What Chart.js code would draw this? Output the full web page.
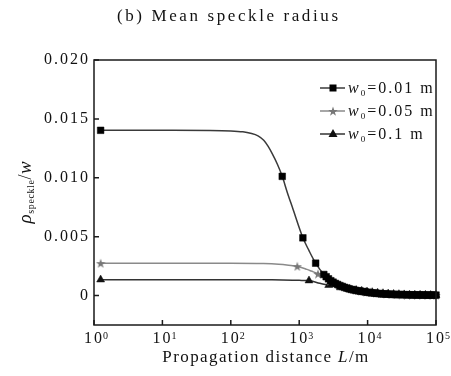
<!DOCTYPE html>
<html>
<head>
<meta charset="utf-8">
<script src="https://cdn.jsdelivr.net/npm/chart.js@4"></script>
<style>
  body { margin: 0; background: #fff; }
  canvas { display: block; }
</style>
</head>
<body>
<canvas id="speckleChart" width="451" height="376"></canvas>
<script>
// axis ticks (x labels are 10 raised to the exponent)
const xTickValues = [1, 10, 100, 1000, 10000, 100000];
const xTickBase = '10';
const xTickExps = ['0', '1', '2', '3', '4', '5'];
const yTickValues = [0, 0.005, 0.010, 0.015, 0.020];
const yTickLabels = ['0', '0.005', '0.010', '0.015', '0.020'];

const seriesLabels = ['=0.01 m', '=0.05 m', '=0.1 m'];

// w0 = 0.01 m  (line-only points, then marker points)
const w001LineL = [10, 50, 100, 150, 194, 250, 303, 350, 403, 480, 668, 793, 1387];
const w001LineV = [0.01403, 0.01402, 0.01398, 0.01390, 0.01378, 0.01356, 0.01318, 0.01268, 0.01205, 0.01115, 0.00878, 0.00751, 0.00383];
const w001MarkL = [1.25, 565, 1132, 1740,
    2290, 2480, 2680, 2900, 3130, 3380, 3650, 3940, 4260, 4600,
    4970, 5370, 5800, 6260, 6760, 7300, 7890, 8520, 9200, 9940,
    10700, 11600, 12500, 13500, 14600, 15800, 17000, 18400, 19900, 21500,
    23200, 25000, 27000, 29200, 31500, 34000, 36800, 39700, 42900, 46300,
    50000, 54000, 58300, 63000, 68000, 73500, 79300, 85700, 92500, 100000];
const w001MarkV = [0.01403, 0.01012, 0.0049, 0.00275,
    0.00179, 0.0016, 0.00142, 0.00126, 0.00114, 0.00103, 0.00094, 0.00085, 0.00077, 0.0007,
    0.00063, 0.00057, 0.00052, 0.00048, 0.00044, 0.0004, 0.00037, 0.00034, 0.00031, 0.00028,
    0.00025, 0.00023, 0.00021, 0.00019, 0.00017, 0.00015, 0.00014, 0.00013, 0.00012, 0.00011,
    0.0001, 0.00009, 0.00009, 0.00008, 0.00008, 0.00007, 0.00007, 0.00006, 0.00006, 0.00006,
    0.00005, 0.00005, 0.00005, 0.00005, 0.00004, 0.00004, 0.00004, 0.00004, 0.00004, 0.00004];

// w0 = 0.05 m
const w005LineL = [10, 100, 300, 500, 700, 1300, 1500, 2300];
const w005LineV = [0.00275, 0.00275, 0.00272, 0.00266, 0.00258, 0.00222, 0.00208, 0.00152];
const w005MarkL = [1.25, 937, 1880, 2800, 3700, 4600, 5600, 6700, 8000, 9500, 11200, 13300, 15800, 18800, 22400, 26600, 31600, 37600, 44700, 53000, 63000, 75000, 89000, 100000];
const w005MarkV = [0.00275, 0.00249, 0.00185, 0.00125, 0.00094, 0.00075, 0.00061, 0.0005, 0.00041, 0.00034, 0.00028, 0.00023, 0.00018, 0.00015, 0.00012, 0.0001, 0.00008, 0.00007, 0.00006, 0.00005, 0.00005, 0.00004, 0.00004, 0.00004];

// w0 = 0.1 m
const w01LineL = [10, 100, 400, 800, 1000, 2000];
const w01LineV = [0.00135, 0.00135, 0.00134, 0.00131, 0.00129, 0.00104];
const w01MarkL = [1.25, 1390, 2700, 4000, 5400, 6800, 8200, 9800, 11700, 14000, 16800, 20000, 24000, 28700, 34300, 41000, 49000, 58500, 70000, 83500, 100000];
const w01MarkV = [0.00135, 0.00127, 0.00088, 0.00068, 0.00055, 0.00046, 0.00039, 0.00033, 0.00028, 0.00023, 0.00019, 0.00016, 0.00013, 0.00011, 0.00009, 0.00007, 0.00006, 0.00005, 0.00005, 0.00004, 0.00004];

const SERIF = "'Liberation Serif', 'Times New Roman', serif";

function buildPoints(lineL, lineV, markL, markV) {
    const pts = [];
    lineL.forEach((L, i) => pts.push({ x: L, y: lineV[i], mark: false }));
    markL.forEach((L, i) => pts.push({ x: L, y: markV[i], mark: true }));
    return pts.sort((a, b) => a.x - b.x);
}

// small filled five-point star used as point image
function makeStar(size, color) {
    const c = document.createElement('canvas');
    c.width = size;
    c.height = size;
    const g = c.getContext('2d');
    g.fillStyle = color;
    g.beginPath();
    for (let i = 0; i < 10; i++) {
        const r = i % 2 ? size * 0.2 : size * 0.5;
        const a = -Math.PI / 2 + i * Math.PI / 5;
        g.lineTo(size / 2 + r * Math.cos(a), size / 2 + 0.6 + r * Math.sin(a));
    }
    g.closePath();
    g.fill();
    return c;
}
const starImg = makeStar(10, '#777');

const markRadius = (r) => (ctx) => (ctx.raw && ctx.raw.mark ? r : 0);

// draw a run of text pieces, returns total width
function drawPieces(ctx, pieces, x, y, spacing, measureOnly) {
    let cx = x;
    pieces.forEach(p => {
        ctx.font = p.font;
        ctx.letterSpacing = spacing;
        if (!measureOnly) ctx.fillText(p.text, cx, y + (p.dy || 0));
        cx += ctx.measureText(p.text).width;
    });
    return cx - x;
}

const framePlugin = {
    id: 'frame',
    beforeDraw(chart) {
        chart.ctx.letterSpacing = '2px';
    },
    afterDraw(chart) {
        const { ctx, chartArea: a, scales: { x, y } } = chart;
        ctx.save();
        ctx.letterSpacing = '0px';

        // box + inward ticks
        ctx.strokeStyle = '#1a1a1a';
        ctx.lineWidth = 1.5;
        ctx.strokeRect(a.left, a.top, a.right - a.left, a.bottom - a.top);
        ctx.beginPath();
        x.ticks.forEach(t => {
            const px = x.getPixelForValue(t.value);
            ctx.moveTo(px, a.bottom);
            ctx.lineTo(px, a.bottom - 5);
        });
        y.ticks.forEach(t => {
            const py = y.getPixelForValue(t.value);
            ctx.moveTo(a.left, py);
            ctx.lineTo(a.left + 5, py);
        });
        ctx.stroke();

        ctx.fillStyle = '#111';
        ctx.textAlign = 'left';
        ctx.textBaseline = 'alphabetic';

        // exponents of the x tick labels
        ctx.font = '16px ' + SERIF;
        ctx.letterSpacing = '2px';
        const baseW = ctx.measureText(xTickBase).width;
        ctx.font = '10px ' + SERIF;
        ctx.letterSpacing = '0px';
        x.ticks.forEach((t, i) => {
            const px = x.getPixelForValue(t.value);
            ctx.fillText(xTickExps[i], px + baseW / 2 - 1, 338.5);
        });

        // title
        drawPieces(ctx, [{ text: '(b) Mean speckle radius', font: '17px ' + SERIF }], 117, 21, '2.6px');

        // x axis title
        const xt = [
            { text: 'Propagation distance ', font: '17px ' + SERIF },
            { text: 'L', font: 'italic 17px ' + SERIF },
            { text: '/m', font: '17px ' + SERIF }
        ];
        const xw = drawPieces(ctx, xt, 0, 0, '1.4px', true);
        drawPieces(ctx, xt, 266 - xw / 2, 362, '1.4px');

        // y axis title (rotated)
        const yt = [
            { text: '\u03c1', font: 'italic 19px ' + SERIF },
            { text: 'speckle', font: '10px ' + SERIF, dy: 3 },
            { text: '/', font: '18px ' + SERIF },
            { text: 'w', font: 'italic 19px ' + SERIF }
        ];
        const yw = drawPieces(ctx, yt, 0, 0, '0.6px', true);
        ctx.save();
        ctx.translate(31, 192);
        ctx.rotate(-Math.PI / 2);
        drawPieces(ctx, yt, -yw / 2, 0, '0.6px');
        ctx.restore();

        // legend
        chart.data.datasets.forEach((ds, i) => {
            const ly = 88 + i * 23;
            ctx.strokeStyle = ds.borderColor;
            ctx.lineWidth = 1.5;
            ctx.beginPath();
            ctx.moveTo(320, ly);
            ctx.lineTo(345, ly);
            ctx.stroke();
            ctx.fillStyle = ds.pointBackgroundColor;
            if (ds.pointStyle === 'rect') {
                ctx.fillRect(329.5, ly - 3.5, 7, 7);
            } else if (ds.pointStyle === 'triangle') {
                ctx.beginPath();
                ctx.moveTo(333, ly - 5);
                ctx.lineTo(337.5, ly + 3);
                ctx.lineTo(328.5, ly + 3);
                ctx.closePath();
                ctx.fill();
            } else {
                ctx.drawImage(starImg, 328, ly - 5);
            }
            ctx.fillStyle = '#111';
            drawPieces(ctx, [
                { text: 'w', font: 'italic 16px ' + SERIF },
                { text: '0', font: '9px ' + SERIF, dy: 3 },
                { text: seriesLabels[i], font: '16px ' + SERIF }
            ], 348, ly + 5, '2px');
        });
        ctx.restore();
    }
};

const speckleChart = new Chart(document.getElementById('speckleChart'), {
    type: 'line',
    data: {
        datasets: [{
            data: buildPoints(w001LineL, w001LineV, w001MarkL, w001MarkV),
            borderColor: '#3a3a3a',
            borderWidth: 1.5,
            pointStyle: 'rect',
            pointBackgroundColor: '#000',
            pointBorderColor: '#000',
            pointBorderWidth: 0.5,
            pointRadius: markRadius(4.7),
            cubicInterpolationMode: 'monotone'
        }, {
            data: buildPoints(w005LineL, w005LineV, w005MarkL, w005MarkV),
            borderColor: '#8a8a8a',
            borderWidth: 1.5,
            pointStyle: starImg,
            pointBackgroundColor: '#777',
            pointBorderColor: '#777',
            pointRadius: markRadius(4),
            cubicInterpolationMode: 'monotone'
        }, {
            data: buildPoints(w01LineL, w01LineV, w01MarkL, w01MarkV),
            borderColor: '#333',
            borderWidth: 1.5,
            pointStyle: 'triangle',
            pointBackgroundColor: '#111',
            pointBorderColor: '#111',
            pointBorderWidth: 0.5,
            pointRadius: markRadius(4.6),
            cubicInterpolationMode: 'monotone'
        }]
    },
    options: {
        responsive: false,
        animation: false,
        events: [],
        clip: false,
        layout: { padding: { top: 60, right: 15, left: 0, bottom: 0 } },
        plugins: {
            legend: { display: false },
            title: { display: false },
            tooltip: { enabled: false }
        },
        scales: {
            x: {
                type: 'logarithmic',
                min: 1,
                max: 100000,
                grid: { display: false, drawTicks: false },
                border: { display: false },
                ticks: {
                    color: '#111',
                    padding: 4,
                    maxRotation: 0,
                    autoSkip: false,
                    font: { family: SERIF, size: 16 },
                    callback: () => xTickBase
                },
                afterBuildTicks: (scale) => {
                    scale.ticks = xTickValues.map(v => ({ value: v }));
                },
                afterFit: (scale) => {
                    scale.height = 51;
                    scale.paddingLeft = 0;
                    scale.paddingRight = 0;
                }
            },
            y: {
                min: -0.0025,
                max: 0.020,
                grid: { display: false, drawTicks: false },
                border: { display: false },
                ticks: {
                    color: '#111',
                    padding: 4,
                    font: { family: SERIF, size: 16 },
                    callback: (value, index) => yTickLabels[index]
                },
                afterBuildTicks: (scale) => {
                    scale.ticks = yTickValues.map(v => ({ value: v }));
                },
                afterFit: (scale) => {
                    scale.width = 94;
                    scale.paddingTop = 0;
                    scale.paddingBottom = 0;
                }
            }
        }
    },
    plugins: [framePlugin]
});
</script>
</body>
</html>
